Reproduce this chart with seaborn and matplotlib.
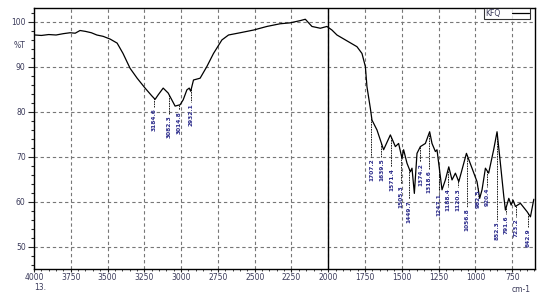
import numpy as np
import pandas as pd
import matplotlib
matplotlib.use("Agg")
import matplotlib.pyplot as plt
import seaborn as sns

# ---- data ----
wavenumber = [3993, 3950, 3900, 3850, 3800, 3755, 3720, 3687, 3650, 3610, 3573, 3530,
              3483, 3435, 3395, 3347, 3299, 3245, 3200, 3177, 3156, 3122, 3088, 3041,
              3007, 2986, 2961, 2945, 2935, 2916, 2871, 2825, 2780, 2723, 2678, 2599,
              2508, 2417, 2327, 2259, 2190, 2156, 2111, 2054, 2009, 1975, 1941, 1873,
              1805, 1771, 1748, 1737, 1714, 1703, 1669, 1624, 1578, 1544, 1522, 1499,
              1488, 1465, 1442, 1431, 1415, 1397, 1374, 1340, 1311, 1295, 1272, 1261,
              1227, 1204, 1181, 1159, 1136, 1113, 1061, 1023, 989, 971, 955, 932,
              910, 876, 853, 835, 807, 796, 773, 757, 744, 728, 694, 648, 626, 603]
transmittance = [97.1, 97.0, 97.2, 97.1, 97.4, 97.6, 97.5, 98.1, 97.9, 97.6, 97.1, 96.8,
                 96.2, 95.3, 93.0, 89.7, 87.5, 85.3, 83.6, 82.8, 83.8, 85.3, 84.2, 81.3,
                 81.6, 82.7, 84.9, 85.3, 84.6, 87.1, 87.5, 90.1, 93.0, 96.0, 97.1, 97.6,
                 98.2, 99.0, 99.6, 99.8, 100.3, 100.6, 99.0, 98.6, 99.0, 98.2, 97.1, 95.8,
                 94.5, 93.0, 90.1, 85.6, 80.8, 78.2, 76.0, 71.6, 74.9, 72.3, 73.0, 69.7,
                 71.6, 68.6, 66.7, 67.5, 61.9, 70.8, 72.3, 73.0, 75.6, 73.0, 71.2, 71.6,
                 62.7, 64.9, 67.8, 64.9, 66.4, 64.5, 70.8, 67.5, 64.5, 60.8, 62.7, 67.5,
                 66.4, 71.6, 75.6, 70.1, 61.2, 58.2, 60.8, 59.3, 60.4, 59.0, 59.7, 57.8,
                 56.7, 60.6]

peak_wn = [3184, 3082, 3014, 2932, 1707, 1639, 1571, 1505, 1449, 1374, 1318,
           1247, 1188, 1120, 1056, 982, 920, 852, 791, 723, 642]
peak_label_top = [80.9, 79.3, 80.2, 82.0, 69.8, 69.8, 67.6, 63.8, 60.4, 68.7, 67.1,
                  62.0, 63.1, 63.1, 58.7, 62.7, 63.1, 55.6, 57.1, 56.4, 54.2]
peak_labels = ["3184.6", "3082.3", "3014.8", "2932.1", "1707.2", "1639.5", "1571.4",
               "1505.3", "1449.7", "1374.2", "1318.6", "1247.1", "1188.4", "1120.3",
               "1056.8", "982.5", "920.4", "852.3", "791.6", "723.2", "642.9"]

x_ticks = [4000, 3750, 3500, 3250, 3000, 2750, 2500, 2250, 2000, 1750, 1500, 1250, 1000, 750]
y_ticks = [50, 60, 70, 80, 90, 100]
series_name = "KFQ"

df = pd.DataFrame({"wn": wavenumber, "T": transmittance, "s": series_name})

sns.set_style("white")
plt.rcParams['font.family'] = ['DejaVu Sans']

fig = plt.figure(figsize=(5.46, 2.94), dpi=100)
ax = fig.add_axes([34 / 546, 1 - 269 / 294, (535 - 34) / 546, (269 - 8) / 294])

sns.lineplot(data=df, x="wn", y="T", hue="s", palette=["black"], sort=False,
             linewidth=0.9, ax=ax, legend=True)

ax.set_xlim(4000, 595)
ax.set_ylim(45.1, 103.1)

ax.set_xticks(x_ticks)
ax.set_xticks(np.arange(600, 4001, 50), minor=True)
ax.set_yticks(y_ticks)
ax.set_yticks(np.arange(46, 103, 2), minor=True)
tick_col = "#3a3a5a"
ax.tick_params(axis="both", which="major", labelsize=5.5, labelcolor=tick_col, width=0.8)
ax.tick_params(axis="y", which="major", length=4, pad=2)
ax.tick_params(axis="y", which="minor", length=2.5, width=0.8)
ax.tick_params(axis="x", which="major", length=2, pad=1.0)
ax.tick_params(axis="x", which="minor", length=1.5, width=0.6)
ax.tick_params(left=True, bottom=True, which="both")

ax.grid(True, which="major", color="#777777", linestyle=(0, (3, 2.5)), linewidth=0.8)
ax.set_axisbelow(True)
for sp in ax.spines.values():
    sp.set_visible(True)
    sp.set_color("black")
    sp.set_linewidth(1.0)

ax.axvline(2000, color="black", linewidth=1.0)

ax.set_xlabel("")
ax.set_ylabel("")

# peak annotations
for w, top, lab in zip(peak_wn, peak_label_top, peak_labels):
    tc = float(np.interp(w, wavenumber[::-1], transmittance[::-1]))
    if tc > top + 0.3:
        ax.plot([w, w], [tc, top + 0.2], color="black", linewidth=0.6,
                linestyle=(0, (2, 1)), zorder=3)
    ax.text(w, top, lab, rotation=90, ha="center", va="top", fontsize=4.2,
            color="#2a2a8a", fontweight="bold", zorder=4)

fig.text(14 / 546, 1 - 45 / 294, "%T", fontsize=5.5, color=tick_col, va="center", ha="left")
fig.text(34 / 546, 1 - 288 / 294, "13.", fontsize=5.5, color=tick_col, va="center", ha="left")
fig.text(531 / 546, 1 - 289 / 294, "cm-1", fontsize=5.5, color=tick_col, va="center", ha="right")

leg = ax.legend(loc="upper right", bbox_to_anchor=(0.99, 1.0), frameon=True, fancybox=False,
                edgecolor="black", fontsize=5.5, markerfirst=False, handlelength=2.2,
                borderpad=0.15, handletextpad=1.5, borderaxespad=0.0, labelcolor=tick_col)
leg.get_frame().set_linewidth(0.8)
for t in leg.get_texts():
    t.set_color(tick_col)

fig.savefig("out.png", dpi=100, facecolor="white")
